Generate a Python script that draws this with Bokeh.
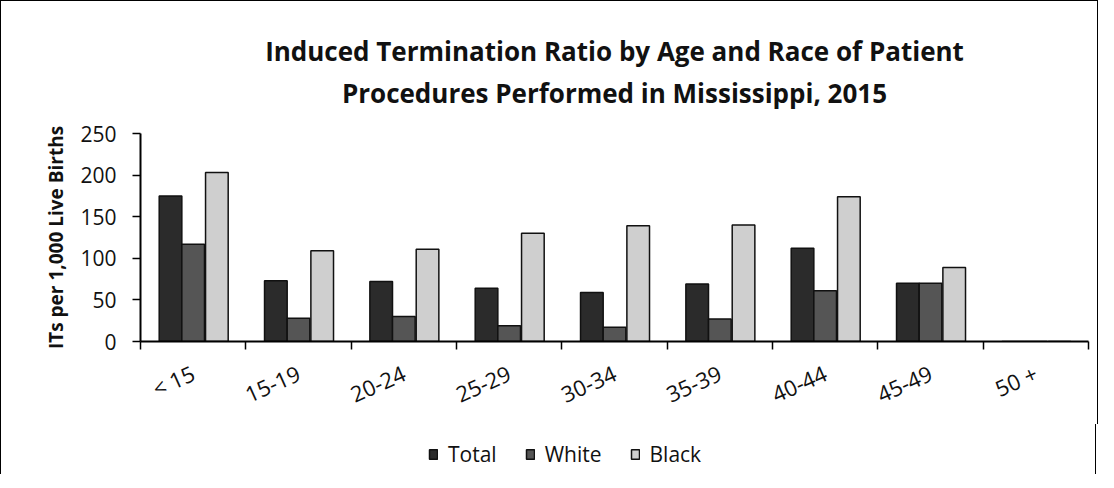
from bokeh.plotting import figure
from bokeh.layouts import column
from bokeh.models import (Range1d, LinearAxis, FixedTicker,
                          Title, Legend, LegendItem, ColumnDataSource)
from bokeh.transform import dodge
from bokeh.embed import file_html
from bokeh.resources import INLINE

ages = ["< 15", "15-19", "20-24", "25-29", "30-34", "35-39", "40-44", "45-49", "50 +"]
total = [175, 73, 72, 64, 59, 69, 112, 70, 0]
white = [117, 28, 30, 19, 17, 27, 61, 70, 0]
black = [203, 109, 111, 130, 139, 140, 174, 89, 0]
y_ticks = [0, 50, 100, 150, 200, 250]
series = ["Total", "White", "Black"]

FONT = "Open Sans"
INK = "#111111"

centers = [i + 0.5 for i in range(len(ages))]
src = ColumnDataSource(dict(pos=centers, age=ages, Total=total, White=white, Black=black))

colors = {"Total": "#2b2b2b", "White": "#555555", "Black": "#cfcfcf"}
offsets = {"Total": -0.215, "White": 0.0, "Black": 0.225}

p = figure(x_range=Range1d(0, len(ages)), y_range=Range1d(0, 250),
           frame_width=946, frame_height=207, output_backend="svg", toolbar_location=None,
           x_axis_location=None, y_axis_location="left",
           min_border_left=139, min_border_right=11, min_border_bottom=80, min_border_top=132)
p.styles = {"border-top": "1px solid black", "border-left": "1px solid black",
            "border-right": "1px solid black"}
p.outline_line_color = None
p.xgrid.grid_line_color = None
p.ygrid.grid_line_color = None

# titles: spacer closest to the frame, then line 2, then line 1
p.title.visible = False
p.add_layout(Title(text=" ", text_font=FONT, text_font_size="10px", standoff=3), "above")
p.add_layout(Title(text="Procedures Performed in Mississippi, 2015", align="center",
                   text_font=FONT, text_font_size="26px", text_font_style="bold",
                   text_color=INK, standoff=8), "above")
p.add_layout(Title(text="Induced Termination Ratio by Age and Race of Patient", align="center",
                   text_font=FONT, text_font_size="26px", text_font_style="bold",
                   text_color=INK, standoff=0), "above")

for s in series:
    p.vbar(x=dodge("pos", offsets[s]), top=s, width=0.215, source=src,
           fill_color=colors[s], line_color=INK, line_width=1.5)

# y axis
yax = p.yaxis[0]
yax.ticker = FixedTicker(ticks=y_ticks)
yax.minor_tick_line_color = None
yax.major_tick_in = 0
yax.major_tick_out = 8
yax.axis_line_width = 2
yax.axis_line_color = "black"
yax.major_tick_line_width = 1.5
yax.major_label_text_font = FONT
yax.major_label_text_font_size = "21px"
yax.major_label_text_color = INK
yax.major_label_standoff = 16
yax.axis_label = "ITs per 1,000 Live Births"
yax.axis_label_text_font = FONT
yax.axis_label_text_font_size = "19px"
yax.axis_label_text_font_style = "bold"
yax.axis_label_text_color = INK
yax.axis_label_standoff = 8

# x axis: ticks at category boundaries, labels at centers
tick_axis = LinearAxis(ticker=FixedTicker(ticks=list(range(len(ages) + 1))),
                       major_label_text_color=None, major_label_text_font_size="1px",
                       major_label_standoff=0, major_tick_in=0, major_tick_out=8,
                       minor_tick_line_color=None, axis_line_width=2, axis_line_color="black",
                       major_tick_line_width=1.5)
p.add_layout(tick_axis, "below")
label_axis = LinearAxis(ticker=FixedTicker(ticks=centers),
                        major_label_overrides={c: a for c, a in zip(centers, ages)},
                        axis_line_color=None, major_tick_line_color=None, minor_tick_line_color=None,
                        major_label_orientation=0.42, major_label_text_font=FONT,
                        major_label_text_font_size="22px", major_label_text_color=INK,
                        major_label_standoff=16)
p.add_layout(label_axis, "below")

# legend strip below the chart (its bar renderers are hidden, only the legend shows)
lf = figure(x_range=p.x_range, y_range=Range1d(0, 250), width=1096, height=50,
            output_backend="svg", toolbar_location=None,
            x_axis_location=None, y_axis_location=None, min_border=0)
lf.styles = {"border-left": "1px solid black", "border-right": "1px solid black"}
lf.outline_line_color = None
lf.xgrid.grid_line_color = None
lf.ygrid.grid_line_color = None
leg_r = {}
for s in series:
    leg_r[s] = lf.vbar(x=dodge("pos", offsets[s]), top=s, width=0.215, source=src,
                       fill_color=colors[s], line_color=INK, line_width=1.5, visible=False)

legend = Legend(items=[LegendItem(label=s, renderers=[leg_r[s]]) for s in series],
                orientation="horizontal", location=(288, 6), border_line_color=None,
                background_fill_alpha=0, inactive_fill_alpha=0,
                label_text_font=FONT, label_text_font_size="21px", label_text_color=INK,
                glyph_width=10, glyph_height=12, spacing=28, label_standoff=10,
                margin=0, padding=2)
lf.add_layout(legend, "center")

layout = column(p, lf, spacing=0)
open("out.html", "w").write(file_html(layout, INLINE))
